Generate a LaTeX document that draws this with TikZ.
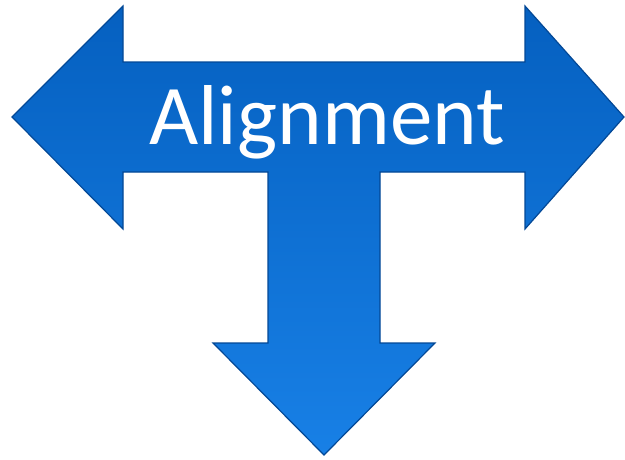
\documentclass[tikz,border=0pt]{standalone}
\usepackage{fontspec}
\setmainfont{Carlito}
\usepackage{xcolor}
\usepackage{tikz}
\usetikzlibrary{calc}

\definecolor{arrowblue}{RGB}{6,98,193}
\definecolor{arrowtop}{RGB}{5,96,192}
\definecolor{arrowlow}{RGB}{24,128,230}
\definecolor{arrowedge}{RGB}{3,72,150}

\begin{document}
\begin{tikzpicture}[
  x=1pt, y=-1pt,
  shape3/.style={top color=arrowtop, bottom color=arrowlow, draw=arrowedge, line width=1.2pt, line join=miter},
  label/.style={text=white, font=\fontsize{85}{92}\selectfont, inner sep=0pt},
]
\useasboundingbox (0,0) rectangle (625,459);

% three-way arrow
\path[shape3] (12,117) -- (123,6) -- (123,62) -- (525,62) -- (525,6) -- (624,117)
  -- (525,229) -- (525,172) -- (380,172) -- (380,343) -- (435,343) -- (324,455)
  -- (213,343) -- (268,343) -- (268,172) -- (123,172) -- (123,229) -- cycle;

\node[label, anchor=base] (title) at (327,144) {Alignment};

\end{tikzpicture}
\end{document}
